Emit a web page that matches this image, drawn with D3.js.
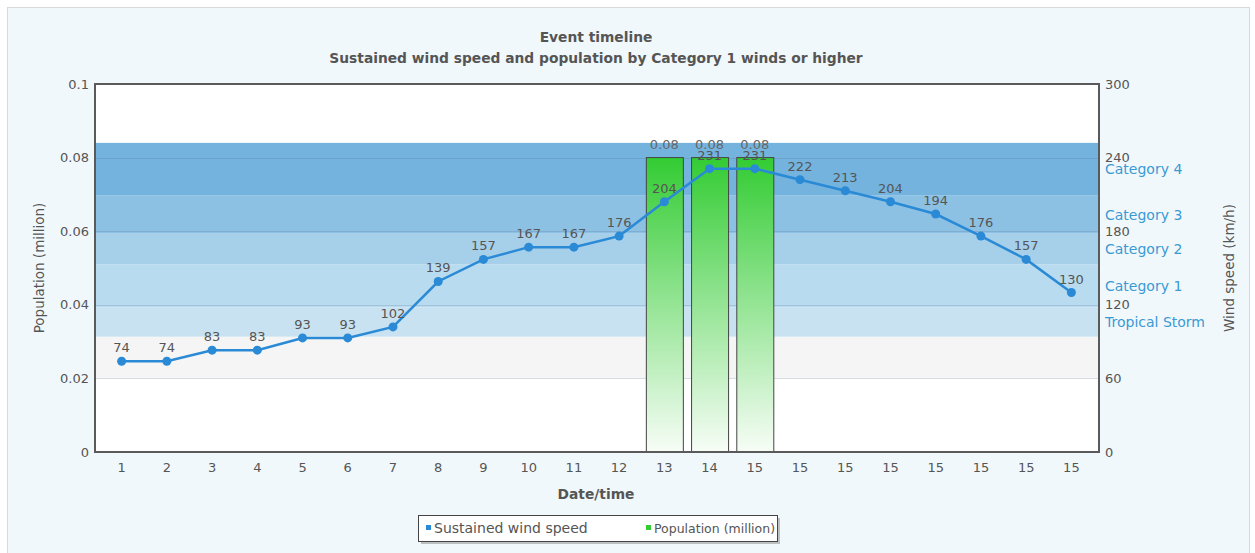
<!DOCTYPE html>
<html>
<head>
<meta charset="utf-8">
<script src="https://cdn.jsdelivr.net/npm/d3@7"></script>
<style>
  body { margin: 0; background: #fff; font-family: Tahoma, "DejaVu Sans", Verdana, sans-serif; }
  svg text { font-family: Tahoma, "DejaVu Sans", Verdana, sans-serif; }
</style>
</head>
<body>
<script>
const W = 1255, H = 553;

// ----- DATA -----
const dateLabels = ["1","2","3","4","5","6","7","8","9","10","11","12","13","14","15","15","15","15","15","15","15","15"];
const windSpeed = [74, 74, 83, 83, 93, 93, 102, 139, 157, 167, 167, 176, 204, 231, 231, 222, 213, 204, 194, 176, 157, 130];
const popIndex = [12, 13, 14];
const population = [0.08, 0.08, 0.08];
const popTicks = [0, 0.02, 0.04, 0.06, 0.08, 0.1];
const windTicks = [0, 60, 120, 180, 240, 300];
const bandNames = ["", "Tropical Storm", "Category 1", "Category 2", "Category 3", "Category 4"];
const bandEdges = [60, 94, 118, 153, 178, 209, 252];
const bandColors = ["#f5f5f5", "#c9e2f1", "#b9dbef", "#a6cfea", "#8dc1e4", "#73b3de"];

const frame = { left: 95, right: 1099, top: 84, bottom: 452 };

const svg = d3.select("body").append("svg").attr("width", W).attr("height", H);

// ----- BACKGROUND -----
svg.append("rect").attr("x", 0).attr("y", 0).attr("width", W).attr("height", H).attr("fill", "#fff");
svg.append("rect").attr("x", 7.5).attr("y", 7.5).attr("width", 1242).attr("height", 560)
  .attr("fill", "#f1f8fb").attr("stroke", "#d9d9d9");
svg.append("rect").attr("x", frame.left).attr("y", frame.top)
  .attr("width", frame.right - frame.left).attr("height", frame.bottom - frame.top).attr("fill", "#fff");

// ----- SCALES -----
const x = d3.scaleBand().domain(d3.range(dateLabels.length)).range([99, 1094]);
const yPop = d3.scaleLinear().domain([0, 0.1]).range([frame.bottom, frame.top]);
const yWind = d3.scaleLinear().domain([0, 300]).range([frame.bottom, frame.top]);

// ----- BANDS -----
const bands = bandColors.map((c, i) => ({ lo: bandEdges[i], hi: bandEdges[i + 1], color: c, name: bandNames[i] }));
svg.append("g").selectAll("rect").data(bands).enter().append("rect")
  .attr("x", frame.left).attr("width", frame.right - frame.left)
  .attr("y", d => yWind(d.hi)).attr("height", d => yWind(d.lo) - yWind(d.hi))
  .attr("fill", d => d.color);

// ----- GRID -----
svg.append("g").selectAll("line").data(popTicks.slice(1, -1)).enter().append("line")
  .attr("x1", frame.left).attr("x2", frame.right)
  .attr("y1", d => Math.round(yPop(d)) + 0.5).attr("y2", d => Math.round(yPop(d)) + 0.5)
  .attr("stroke", "rgba(80,110,140,0.22)");

// ----- BARS -----
const grad = svg.append("defs").append("linearGradient").attr("id", "barGrad")
  .attr("x1", 0).attr("y1", 0).attr("x2", 0).attr("y2", 1);
grad.append("stop").attr("offset", "0%").attr("stop-color", "#33cc33");
grad.append("stop").attr("offset", "100%").attr("stop-color", "#f7fdf7");

const barW = 37;
svg.append("g").selectAll("rect").data(population).enter().append("rect")
  .attr("x", (d, i) => x(popIndex[i]) + x.bandwidth() / 2 - barW / 2 + 0.5)
  .attr("y", d => yPop(d))
  .attr("width", barW).attr("height", d => yPop(0) - yPop(d))
  .attr("fill", "url(#barGrad)").attr("stroke", "#444").attr("stroke-width", 1);

svg.append("g").selectAll("text").data(population).enter().append("text")
  .attr("x", (d, i) => x(popIndex[i]) + x.bandwidth() / 2)
  .attr("y", d => yPop(d) - 9)
  .attr("text-anchor", "middle").attr("font-size", 13).attr("fill", "#666")
  .text(d => d);

// ----- LINE -----
const cx = i => x(i) + x.bandwidth() / 2;
svg.append("path").datum(windSpeed)
  .attr("d", d3.line().x((d, i) => cx(i)).y(d => yWind(d)))
  .attr("fill", "none").attr("stroke", "#2a8ad6").attr("stroke-width", 2.5);
svg.append("g").selectAll("circle").data(windSpeed).enter().append("circle")
  .attr("cx", (d, i) => cx(i)).attr("cy", d => yWind(d)).attr("r", 4.5).attr("fill", "#2a8ad6");
svg.append("g").selectAll("text").data(windSpeed).enter().append("text")
  .attr("x", (d, i) => cx(i)).attr("y", d => yWind(d) - 9)
  .attr("text-anchor", "middle").attr("font-size", 13).attr("fill", "#555")
  .text(d => d);

// ----- FRAME -----
svg.append("rect").attr("x", frame.left).attr("y", frame.top)
  .attr("width", frame.right - frame.left).attr("height", frame.bottom - frame.top)
  .attr("fill", "none").attr("stroke", "#5a5a5a").attr("stroke-width", 2);

// ----- AXES -----
const leftAxis = svg.append("g").attr("transform", `translate(${frame.left - 1},0)`)
  .call(d3.axisLeft(yPop).tickValues(popTicks).tickSize(0).tickPadding(5).tickFormat(d => d));
const rightAxis = svg.append("g").attr("transform", `translate(${frame.right + 1},0)`)
  .call(d3.axisRight(yWind).tickValues(windTicks).tickSize(0).tickPadding(5));
const xAxis = svg.append("g").attr("transform", `translate(0,${frame.bottom + 1})`)
  .call(d3.axisBottom(x).tickSize(0).tickPadding(10).tickFormat(i => dateLabels[i]));
[leftAxis, rightAxis, xAxis].forEach(a => {
  a.select(".domain").remove();
  a.selectAll("text").attr("font-size", 13).attr("fill", "#555")
    .style("font-family", "Tahoma, 'DejaVu Sans', Verdana, sans-serif");
});

// category labels on the right
svg.append("g").selectAll("text").data(bands.filter(b => b.name)).enter().append("text")
  .attr("x", frame.right + 6).attr("y", d => (yWind(d.lo) + yWind(d.hi)) / 2 + 5)
  .attr("font-size", 14).attr("fill", "#3a9ad4")
  .text(d => d.name);

// ----- TITLES -----
svg.append("text").attr("x", 596).attr("y", 42).attr("text-anchor", "middle")
  .attr("font-size", 13.8).attr("font-weight", "bold").attr("fill", "#555").text("Event timeline");
svg.append("text").attr("x", 596).attr("y", 63).attr("text-anchor", "middle")
  .attr("font-size", 13.8).attr("font-weight", "bold").attr("fill", "#555")
  .text("Sustained wind speed and population by Category 1 winds or higher");
svg.append("text").attr("x", 596).attr("y", 499).attr("text-anchor", "middle")
  .attr("font-size", 13.8).attr("font-weight", "bold").attr("fill", "#555").text("Date/time");
svg.append("text").attr("transform", "translate(44,268) rotate(-90)").attr("text-anchor", "middle")
  .attr("font-size", 13.5).attr("fill", "#555").text("Population (million)");
svg.append("text").attr("transform", "translate(1234,268) rotate(-90)").attr("text-anchor", "middle")
  .attr("font-size", 13.5).attr("fill", "#555").text("Wind speed (km/h)");

// ----- LEGEND -----
const lg = svg.append("g").attr("transform", "translate(418,515)");
lg.append("rect").attr("x", 3).attr("y", 3).attr("width", 359).attr("height", 26).attr("fill", "#888").attr("opacity", 0.5);
lg.append("rect").attr("x", 0.5).attr("y", 0.5).attr("width", 359).attr("height", 26)
  .attr("fill", "#fff").attr("stroke", "#444");
const legendItems = [
  { name: "Sustained wind speed", color: "#2a8ad6", x: 8, size: 14 },
  { name: "Population (million)", color: "#33cc33", x: 228, size: 12.5 }
];
lg.selectAll("g.item").data(legendItems).enter().append("g").attr("class", "item")
  .each(function (d) {
    const g = d3.select(this);
    g.append("rect").attr("x", d.x).attr("y", 10).attr("width", 5).attr("height", 5).attr("fill", d.color);
    g.append("text").attr("x", d.x + 8).attr("y", 18).attr("font-size", d.size).attr("fill", "#555").text(d.name);
  });
</script>
</body>
</html>
